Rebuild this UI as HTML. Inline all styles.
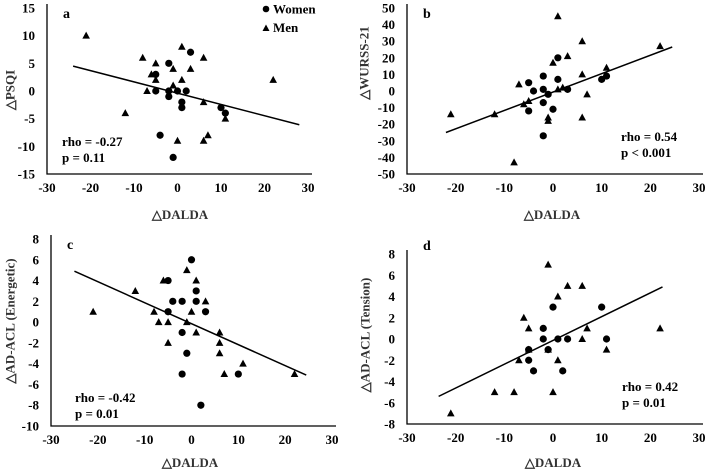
<!DOCTYPE html>
<html><head><meta charset="utf-8"><style>
html,body{margin:0;padding:0;background:#fff;width:708px;height:473px;overflow:hidden}
svg{display:block}
svg text{font-family:"Liberation Serif",serif;font-weight:700}
</style></head><body>
<svg id="c" width="708" height="473" viewBox="0 0 708 473" xmlns="http://www.w3.org/2000/svg"></svg>
<script>
const xTicks=[-30,-20,-10,0,10,20,30];
const aWomen=[[-5,3],[-5,0],[-2,5],[-2,0],[-2,-1],[0,0],[1,-2],[1,-3],[2,0],[3,7],[10,-3],[11,-4],[-4,-8],[-1,-12]];
const aMen=[[-21,10],[-8,6],[-5,5],[-6,3],[-5,2],[-7,0],[-12,-4],[-1,4],[-1,1],[1,8],[1,2],[3,4],[6,6],[6,-2],[11,-5],[0,-9],[6,-9],[7,-8],[22,2]];
const aTrend=[[-24,4.5],[28,-6.1]];
const aYTicks=[-15,-10,-5,0,5,10,15];
const bWomen=[[-5,5],[-4,0],[-5,-12],[-2,9],[-2,1],[-2,-7],[-1,-2],[0,-11],[1,20],[1,7],[3,1],[10,7],[11,9],[-2,-27]];
const bMen=[[-21,-14],[-12,-14],[-8,-43],[-7,4],[-6,-8],[-5,-6],[-1,-16],[-1,-18],[0,17],[1,45],[1,1],[2,2],[3,21],[6,30],[6,10],[6,-16],[7,-2],[11,14],[22,27]];
const bTrend=[[-22,-25],[24.5,26.5]];
const bYTicks=[-50,-40,-30,-20,-10,0,10,20,30,40,50];
const cWomen=[[0,6],[-5,4],[1,3],[-4,2],[-2,2],[1,2],[-5,1],[3,1],[-2,-1],[-1,-3],[-2,-5],[10,-5],[2,-8]];
const cMen=[[-21,1],[-12,3],[-6,4],[-1,5],[1,4],[3,2],[-8,1],[0,1],[-7,0],[-5,0],[-1,0],[1,-1],[6,-1],[6,-2],[-5,-2],[6,-3],[11,-4],[7,-5],[22,-5]];
const cTrend=[[-25,4.9],[24.5,-5.1]];
const cYTicks=[-10,-8,-6,-4,-2,0,2,4,6,8];
const dWomen=[[0,3],[10,3],[-2,1],[-2,0],[1,0],[3,0],[11,0],[-5,-1],[-1,-1],[-5,-2],[-4,-3],[2,-3]];
const dMen=[[-1,7],[3,5],[6,5],[1,4],[-6,2],[-5,1],[7,1],[22,1],[6,0],[-5,-1],[-1,-1],[11,-1],[-7,-2],[1,-2],[-12,-5],[-8,-5],[0,-5],[-21,-7]];
const dTrend=[[-23.5,-5.4],[22.5,4.9]];
const dYTicks=[-8,-6,-4,-2,0,2,4,6,8];

const svg=document.getElementById('c');
const NS='http://www.w3.org/2000/svg';
function mk(tag,attrs,parent){const e=document.createElementNS(NS,tag);for(const k in attrs)e.setAttribute(k,attrs[k]);parent.appendChild(e);return e;}
function txt(s,attrs,parent){attrs['font-weight']='bold';attrs['font-family']='Liberation Serif, serif';const e=mk('text',attrs,parent);e.textContent=s;return e;}

const panels=[
 {id:'a',women:aWomen,men:aMen,trend:aTrend,yt:aYTicks,x0:47,x1:308,y0:8,y1:174,ymin:-15,ymax:15,title:'△PSQI',tx:10,ty:90,lx:180,ly:219,rho:'rho = -0.27',p:'p = 0.11',rx:62,ry:146,legend:true},
 {id:'b',women:bWomen,men:bMen,trend:bTrend,yt:bYTicks,x0:407,x1:699,y0:8,y1:174,ymin:-50,ymax:50,title:'△WURSS-21',tx:364,ty:63,lx:552,ly:219,rho:'rho = 0.54',p:'p < 0.001',rx:621,ry:141},
 {id:'c',women:cWomen,men:cMen,trend:cTrend,yt:cYTicks,x0:51,x1:332,y0:239,y1:426,ymin:-10,ymax:8,title:'△AD-ACL (Energetic)',tx:10,ty:321,lx:190,ly:467,rho:'rho = -0.42',p:'p = 0.01',rx:75,ry:402},
 {id:'d',women:dWomen,men:dMen,trend:dTrend,yt:dYTicks,x0:407,x1:699,y0:254,y1:424,ymin:-8,ymax:8,title:'△AD-ACL (Tension)',tx:365,ty:335,lx:553,ly:467,rho:'rho = 0.42',p:'p = 0.01',rx:622,ry:391}
];
panels.forEach(P=>{
 const g=mk('g',{},svg);
 
 
 const sx=v=>P.x0+(v+30)/60*(P.x1-P.x0);
 const sy=v=>P.y1-(v-P.ymin)/(P.ymax-P.ymin)*(P.y1-P.y0);
 const ax=mk('path',{d:`M${P.x0},${P.y0-4} V${P.y1} H${P.x1+4}`,fill:'none',stroke:'#000','stroke-width':1.3},g);
 
 
 xTicks.forEach(t=>{const e=txt(String(t),{x:sx(t),y:P.y1+18,'text-anchor':'middle','font-size':13},g);
  
  });
 P.yt.forEach(t=>{const e=txt(String(t),{x:P.x0-12,y:sy(t)+4.5,'text-anchor':'end','font-size':13},g);
  
  });
 const yt=txt(P.title,{x:P.tx,y:P.ty,transform:`rotate(-90 ${P.tx} ${P.ty})`,'text-anchor':'middle','dominant-baseline':'central','font-size':13,fill:'#333'},g);
 
 
 const xt=txt('△DALDA',{x:P.lx,y:P.ly,'text-anchor':'middle','font-size':13,fill:'#333'},g);
 
 
 const lb=txt(P.id,{x:P.x0+16,y:P.id==='d'?P.y0-4:P.y0+10,'font-size':14},g);
 
 
 const tl=mk('line',{x1:sx(P.trend[0][0]),y1:sy(P.trend[0][1]),x2:sx(P.trend[1][0]),y2:sy(P.trend[1][1]),stroke:'#000','stroke-width':1.5},g);
 
 
 P.women.forEach(d=>{const c=mk('circle',{cx:sx(d[0]),cy:sy(d[1]),r:3.6,fill:'#000'},g);
  
  });
 P.men.forEach(d=>{const x=sx(d[0]),y=sy(d[1]);const t=mk('polygon',{points:`${x},${y-4} ${x-3.8},${y+3} ${x+3.8},${y+3}`,fill:'#000'},g);
  
  });
 const r=txt(P.rho,{x:P.rx,y:P.ry,'font-size':13},g);
 
 
 const p=txt(P.p,{x:P.rx,y:P.ry+16,'font-size':13},g);
 
 
 if(P.legend){
  const lg=mk('g',{},g);
  
  
  mk('circle',{cx:266,cy:9,r:3.3,fill:'#000'},lg);
  txt('Women',{x:273,y:13.5,'font-size':13},lg);
  mk('polygon',{points:'266,24.5 262.5,31 269.5,31',fill:'#000'},lg);
  txt('Men',{x:273,y:32,'font-size':13},lg);
 }
});
</script>
</body></html>
